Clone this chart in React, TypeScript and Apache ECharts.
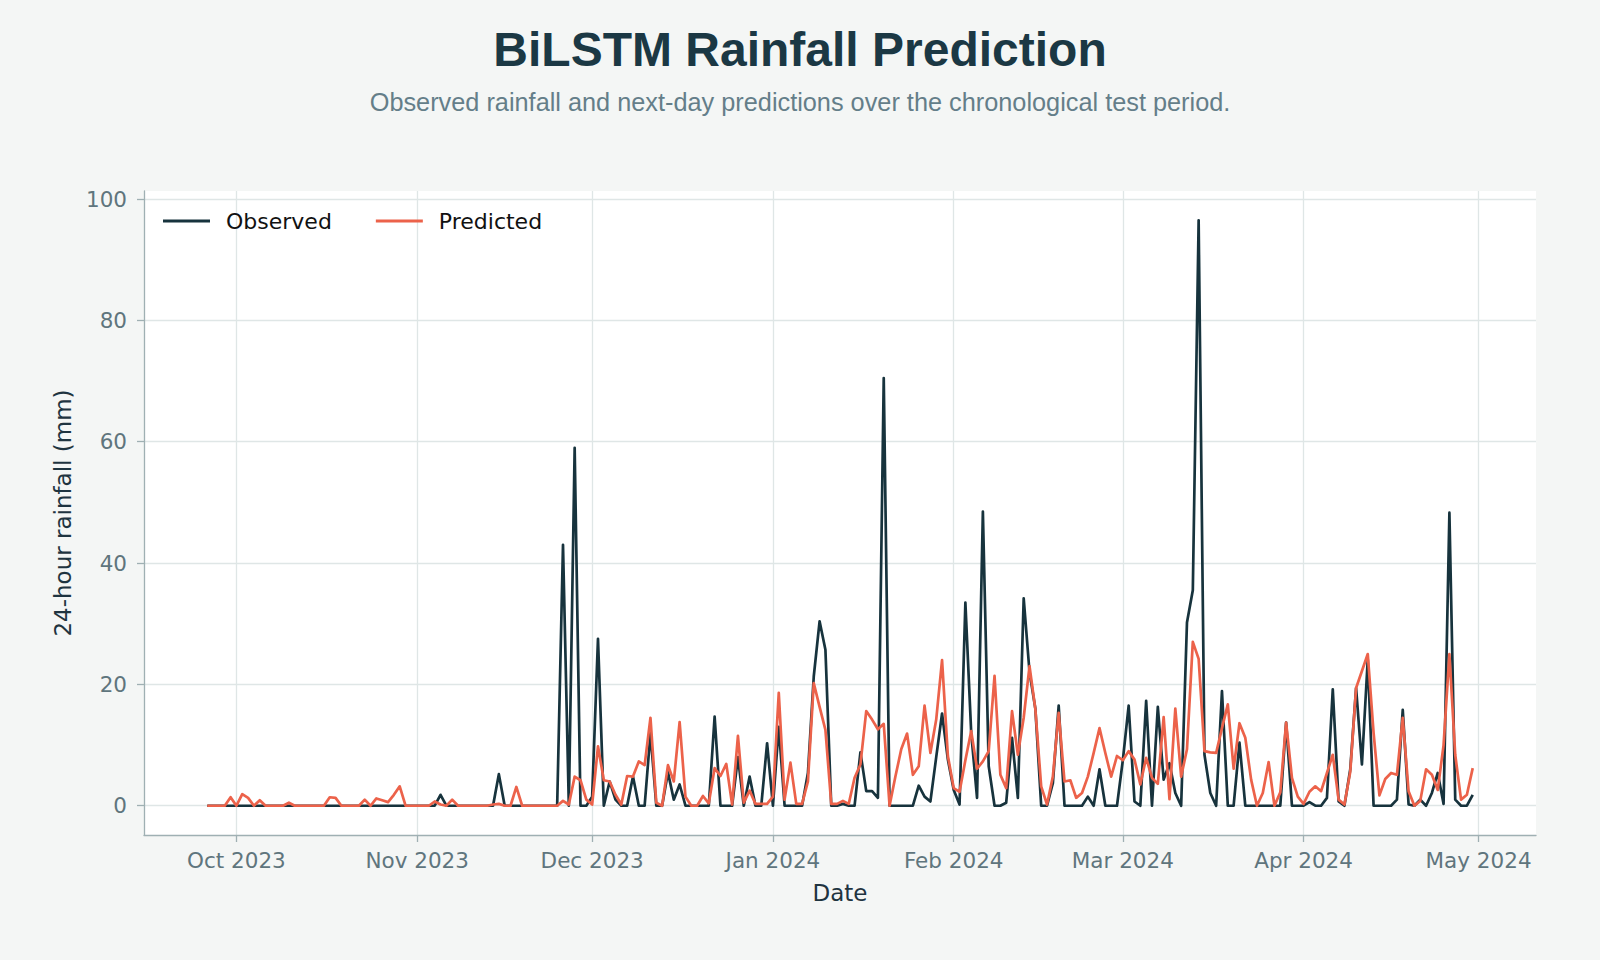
import React, { useEffect, useRef } from "react";
import * as echarts from "echarts";

// Daily series, starting on 2023-09-26 and ending 2024-04-30
const START_DATE = "2023-09-26";

const observed: number[] = [
  // Sep 26-30
  0, 0, 0, 0, 0,
  // Oct
  0, 0, 0, 0, 0, 0, 0, 0, 0, 0, 0, 0, 0, 0, 0, 0, 0, 0, 0, 0, 0, 0, 0, 0, 0, 0, 0, 0, 0, 0, 0,
  // Nov
  0, 0, 0, 0, 1.8, 0, 0, 0, 0, 0, 0, 0, 0, 0, 5.2, 0, 0, 0, 0, 0, 0, 0, 0, 0, 0, 43, 0, 59, 0, 0,
  // Dec
  1.5, 27.5, 0, 4, 1, 0, 0, 4.8, 0, 0, 12, 0, 0, 5.5, 1, 3.5, 0, 0, 0, 0, 0, 14.7, 0, 0, 0, 8, 0, 4.8, 0, 0, 10.3,
  // Jan
  0, 13, 0, 0, 0, 0, 5.4, 21.3, 30.4, 25.7, 0, 0, 0.3, 0, 0, 8.8, 2.4, 2.4, 1.3, 70.5, 0, 0, 0, 0, 0, 3.3, 1.5, 0.7, 8, 15.2, 7.6,
  // Feb
  2.6, 0.2, 33.5, 12, 1.3, 48.5, 6.5, 0, 0, 0.5, 11.2, 1.3, 34.2, 22, 16, 0, 0, 3.7, 16.5, 0, 0, 0, 0, 1.5, 0, 6, 0, 0, 0,
  // Mar
  7.5, 16.5, 0.7, 0, 17.3, 0, 16.3, 4.3, 7, 2.1, 0, 30.2, 35.5, 96.5, 8.4, 2.1, 0, 18.9, 0, 0, 10.4, 0, 0, 0, 0, 0, 0, 0, 13.7, 0, 0,
  // Apr
  0, 0.6, 0, 0, 1.3, 19.2, 0.7, 0, 6, 19.4, 6.8, 24.1, 0, 0, 0, 0, 1, 15.8, 0.2, 0, 1, 0, 2.1, 5.4, 0.3, 48.3, 1, 0, 0, 1.8,
];

const predicted: number[] = [
  // Sep 26-30
  0, 0, 0, 0, 1.4,
  // Oct
  0, 1.9, 1.3, 0, 0.9, 0, 0, 0, 0, 0.5, 0, 0, 0, 0, 0, 0, 1.4, 1.3, 0, 0, 0, 0, 1.0, 0, 1.2, 0.9, 0.6, 1.8, 3.2, 0, 0,
  // Nov
  0, 0, 0, 0.7, 0.2, 0, 1.0, 0, 0, 0, 0, 0, 0, 0.2, 0.3, 0, 0, 3.1, 0, 0, 0, 0, 0, 0, 0, 0.8, 0.2, 4.8, 4.2, 1.0,
  // Dec
  0.2, 9.8, 4.2, 4.0, 1.8, 0.2, 4.9, 4.8, 7.3, 6.7, 14.5, 0.5, 0, 6.7, 4.0, 13.8, 1.5, 0, 0, 1.6, 0.4, 6.2, 4.9, 6.9, 0.2, 11.5, 0.5, 2.5, 0.3, 0.3, 0.3,
  // Jan
  1.5, 18.6, 1.0, 7.1, 0.3, 0.3, 4.0, 20.2, 16.3, 12.5, 0.3, 0.3, 0.8, 0.3, 4.6, 6.8, 15.6, 14.2, 12.6, 13.5, 0, 4.8, 9.3, 11.9, 5.1, 6.5, 16.5, 8.7, 14.2, 24, 8.2,
  // Feb
  2.9, 2.3, 7.5, 12.3, 6.1, 7.3, 9, 21.4, 5.1, 2.9, 15.6, 8.4, 14.5, 23, 15.9, 3.2, 0.2, 4.8, 15.3, 4, 4.2, 1.3, 2.1, 4.8, 8.7, 12.8, 8.7, 4.8, 8.2,
  // Mar
  7.5, 9, 7.6, 3.5, 7.9, 4.6, 3.6, 14.6, 1.1, 16, 4.8, 9.3, 27, 24.2, 9, 8.8, 8.7, 12.8, 16.7, 6.1, 13.6, 11.2, 4.3, 0, 2.1, 7.2, 0, 2.2, 13.7, 4.6, 1.5,
  // Apr
  0.3, 2.3, 3.2, 2.4, 5.4, 8.4, 1, 0.2, 5.6, 19.4, 22.2, 25, 12, 1.7, 4.4, 5.4, 5.1, 14.5, 2.4, 0, 0.8, 6, 5.1, 2.6, 10, 25, 8.4, 1, 1.8, 6.2,
];

const monthTickDates = [
  "2023-10-01", "2023-11-01", "2023-12-01", "2024-01-01",
  "2024-02-01", "2024-03-01", "2024-04-01", "2024-05-01",
];
const yTickValues = [0, 20, 40, 60, 80, 100];
const MONTH_NAMES = ["Jan", "Feb", "Mar", "Apr", "May", "Jun", "Jul", "Aug", "Sep", "Oct", "Nov", "Dec"];

const DAY = 86400000;
const toTs = (s: string) => {
  const [y, m, d] = s.split("-").map(Number);
  return Date.UTC(y, m - 1, d);
};

export default function App() {
  const ref = useRef<HTMLDivElement>(null);

  useEffect(() => {
    if (!ref.current) return;
    const chart = echarts.init(ref.current, undefined, { renderer: "svg" });
    const start = toTs(START_DATE);
    const obsData = observed.map((v, i) => [start + i * DAY, v]);
    const predData = predicted.map((v, i) => [start + i * DAY, v]);
    const n = observed.length;
    const span = (n - 1) * DAY;
    const xMin = start - span * 0.05;
    const xMax = start + span * 1.05;
    const monthTicks = monthTickDates.map(toTs);
    const maxV = Math.max(...observed, ...predicted);
    const yMin = -maxV * 0.05;
    const yMax = maxV * 1.05;

    const axisColor = "#9fb0b3";
    const gridColor = "#dfe6e6";
    const labelColor = "#5f757d";
    const nameColor = "#1f3440";

    chart.setOption({
      animation: false,
      backgroundColor: "#f4f6f5",
      title: [
        {
          text: "BiLSTM Rainfall Prediction",
          left: "center",
          top: 25,
          padding: 0,
          textStyle: {
            fontFamily: "Liberation Sans",
            fontWeight: "bold",
            fontSize: 48,
            color: "#1b3844",
          },
        },
        {
          text: "Observed rainfall and next-day predictions over the chronological test period.",
          left: "center",
          top: 89,
          padding: 0,
          textStyle: {
            fontFamily: "Liberation Sans",
            fontWeight: "normal",
            fontSize: 25.3,
            color: "#647e89",
          },
        },
      ],
      legend: {
        left: 163,
        top: 210,
        padding: 0,
        icon: "rect",
        itemWidth: 47,
        itemHeight: 3,
        itemGap: 44,
        data: ["Observed", "Predicted"],
        textStyle: {
          fontFamily: "DejaVu Sans",
          fontSize: 22,
          color: "#111111",
          padding: [0, 0, 0, 11],
        },
      },
      grid: {
        left: 144,
        top: 191,
        width: 1392,
        height: 644,
        show: true,
        backgroundColor: "#ffffff",
        borderWidth: 0,
        containLabel: false,
        outerBoundsMode: "none",
      },
      xAxis: {
        type: "value",
        min: xMin,
        max: xMax,
        scale: true,
        name: "Date",
        nameLocation: "middle",
        nameGap: 46,
        nameTextStyle: { fontFamily: "DejaVu Sans", fontSize: 23, color: nameColor },
        axisLine: { show: true, onZero: false, lineStyle: { color: axisColor, width: 1.3 } },
        axisTick: { show: true, length: 7, customValues: monthTicks, lineStyle: { color: axisColor, width: 1.3 } },
        axisLabel: {
          customValues: monthTicks,
          margin: 14,
          fontFamily: "DejaVu Sans",
          fontSize: 21.5,
          color: labelColor,
          hideOverlap: false,
          formatter: (val: number) => {
            const d = new Date(val);
            return `${MONTH_NAMES[d.getUTCMonth()]} ${d.getUTCFullYear()}`;
          },
        },
        splitLine: { show: true, lineStyle: { color: gridColor, width: 1.3 } },
      },
      yAxis: {
        type: "value",
        min: yMin,
        max: yMax,
        name: "24-hour rainfall (mm)",
        nameLocation: "middle",
        nameGap: 70,
        nameTextStyle: { fontFamily: "DejaVu Sans", fontSize: 23, color: nameColor },
        axisLine: { show: true, onZero: false, lineStyle: { color: axisColor, width: 1.3 } },
        axisTick: { show: true, length: 7, customValues: yTickValues, lineStyle: { color: axisColor, width: 1.3 } },
        axisLabel: {
          customValues: yTickValues,
          margin: 17,
          fontFamily: "DejaVu Sans",
          fontSize: 21.5,
          color: labelColor,
          formatter: (v: number) => String(Math.round(v)),
        },
        splitLine: { show: true, lineStyle: { color: gridColor, width: 1.3 } },
      },
      series: [
        {
          name: "Observed",
          type: "line",
          data: obsData,
          showSymbol: false,
          symbol: "none",
          lineStyle: { color: "#17333d", width: 2.7, join: "round" },
          itemStyle: { color: "#17333d" },
        },
        {
          name: "Predicted",
          type: "line",
          data: predData,
          showSymbol: false,
          symbol: "none",
          lineStyle: { color: "#ec624a", width: 2.7, join: "round" },
          itemStyle: { color: "#ec624a" },
        },
      ],
    });

    return () => chart.dispose();
  }, []);

  return (
    <div
      ref={ref}
      style={{ position: "fixed", left: 0, top: 0, width: 1600, height: 960 }}
    />
  );
}
